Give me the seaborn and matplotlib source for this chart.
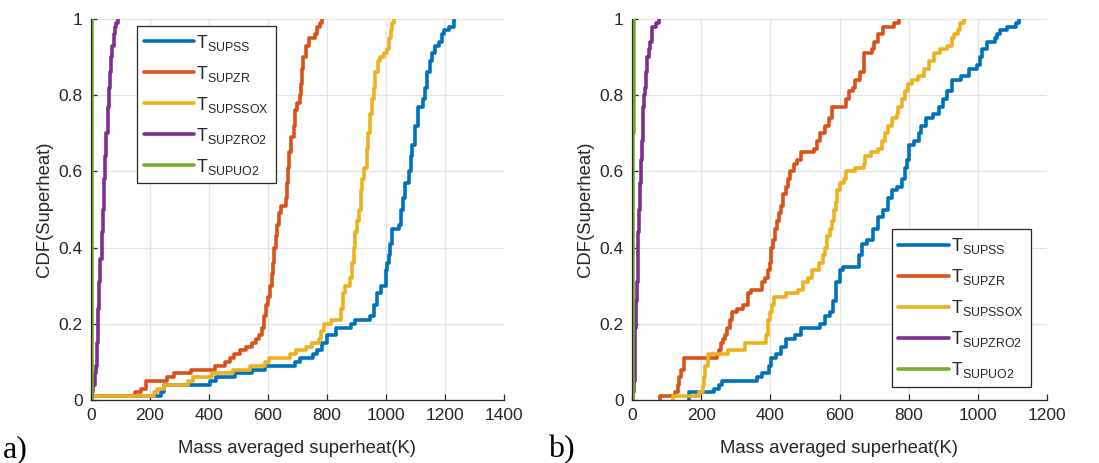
import numpy as np
import matplotlib
matplotlib.use("Agg")
import matplotlib.pyplot as plt
import seaborn as sns

# Series names and line colours (MATLAB default order)
series_names = ["SUPSS", "SUPZR", "SUPSSOX", "SUPZRO2", "SUPUO2"]
series_colors = ["#0072BD", "#D95319", "#EDB120", "#7E2F8E", "#77AC30"]

# ---- case a): sample values (K) and cumulative sample counts (n = 100) ----
ss_a_vals = [0, 236, 246, 402, 424, 488, 547, 590, 690, 708, 751, 765, 784, 800, 832, 880,
             896, 945, 961, 970, 982, 1000, 1005, 1010, 1015, 1020, 1043, 1050, 1056, 1065,
             1077, 1084, 1088, 1099, 1109, 1127, 1133, 1138, 1150, 1157, 1167, 1178, 1189,
             1195, 1212, 1229]
ss_a_cum = [1, 2, 4, 5, 6, 7, 8, 9, 10, 11, 12, 13, 15, 17, 19, 20, 21, 22, 25, 28, 30, 34,
            36, 38, 41, 45, 46, 50, 53, 57, 60, 64, 67, 72, 77, 79, 82, 86, 89, 91, 93, 94,
            96, 97, 98, 100]

zr_a_vals = [0, 150, 170, 188, 257, 280, 340, 420, 455, 470, 485, 505, 525, 545, 558, 568,
             578, 588, 592, 600, 608, 612, 618, 622, 626, 630, 636, 643, 660, 664, 668, 672,
             678, 688, 692, 697, 707, 712, 716, 720, 728, 740, 758, 765, 775, 782]
zr_a_cum = [1, 2, 3, 5, 6, 7, 8, 9, 10, 11, 12, 13, 14, 15, 16, 17, 19, 22, 25, 27, 30, 33,
            36, 40, 43, 46, 49, 51, 53, 57, 61, 65, 69, 72, 76, 78, 80, 83, 87, 90, 93, 95,
            96, 98, 99, 100]

ssox_a_vals = [0, 212, 225, 246, 330, 345, 410, 480, 540, 590, 605, 675, 695, 728, 750, 772,
               778, 790, 815, 848, 854, 862, 878, 884, 890, 896, 902, 908, 914, 920, 926, 934,
               940, 946, 952, 958, 964, 972, 980, 992, 1003, 1010, 1017, 1022, 1028]
ssox_a_cum = [1, 2, 3, 4, 5, 6, 7, 8, 9, 10, 11, 12, 13, 14, 15, 16, 18, 20, 21, 24, 28, 30,
              32, 36, 40, 44, 47, 50, 55, 58, 61, 66, 70, 75, 79, 82, 86, 89, 90, 91, 92, 95,
              97, 99, 100]

zro2_a_vals = [3, 8, 12, 16, 20, 24, 28, 32, 36, 40, 44, 48, 52, 56, 60, 64, 68, 72, 77, 82,
               86, 90]
zro2_a_cum = [2, 4, 7, 9, 15, 24, 31, 37, 44, 50, 58, 64, 70, 77, 82, 86, 90, 93, 96, 98, 99,
              100]

uo2_a_vals = [3, 4, 5]
uo2_a_cum = [30, 70, 100]

# ---- case b): sample values (K) and cumulative sample counts (n = 100) ----
ss_b_vals = [166, 237, 251, 260, 361, 375, 396, 402, 416, 430, 444, 471, 490, 545, 559, 573,
             580, 591, 600, 609, 655, 665, 679, 698, 712, 725, 739, 753, 767, 781, 790, 795,
             800, 814, 830, 837, 851, 870, 888, 898, 912, 925, 950, 974, 998, 1005, 1012,
             1027, 1050, 1056, 1065, 1085, 1109, 1118]
ss_b_cum = [2, 3, 4, 5, 6, 7, 9, 11, 12, 14, 16, 17, 19, 20, 22, 23, 26, 31, 34, 35, 38, 41,
            42, 45, 48, 50, 53, 55, 56, 58, 61, 63, 67, 68, 70, 72, 74, 75, 77, 79, 81, 84,
            85, 87, 88, 90, 92, 94, 95, 96, 97, 98, 99, 100]

zr_b_vals = [82, 125, 133, 136, 143, 150, 245, 252, 257, 263, 270, 275, 282, 290, 303, 320,
             336, 345, 377, 386, 392, 398, 402, 408, 414, 420, 426, 432, 438, 445, 452, 458,
             468, 478, 488, 526, 535, 545, 558, 570, 577, 619, 628, 638, 645, 660, 670, 693,
             700, 712, 726, 758, 772]
zr_b_cum = [1, 2, 4, 6, 8, 11, 12, 13, 15, 16, 17, 19, 21, 23, 24, 25, 28, 29, 31, 32, 34,
            36, 40, 42, 45, 47, 49, 51, 54, 56, 58, 60, 62, 63, 65, 66, 68, 70, 72, 74, 77,
            79, 81, 82, 84, 86, 91, 92, 94, 96, 98, 99, 100]

ssox_b_vals = [118, 195, 205, 209, 212, 220, 277, 327, 388, 392, 400, 406, 410, 445, 480, 495,
               510, 521, 540, 552, 558, 565, 572, 578, 584, 590, 594, 600, 612, 620, 645, 670,
               675, 690, 710, 722, 732, 740, 752, 765, 770, 780, 790, 798, 810, 828, 845, 860,
               872, 890, 910, 925, 932, 942, 948, 960]
ssox_b_cum = [1, 2, 4, 6, 9, 12, 13, 15, 17, 21, 23, 25, 27, 28, 29, 31, 32, 34, 36, 38, 40,
              43, 45, 47, 50, 52, 55, 57, 58, 60, 61, 62, 64, 65, 66, 68, 70, 72, 74, 75, 77,
              79, 81, 83, 84, 85, 87, 89, 91, 92, 93, 95, 96, 97, 99, 100]

zro2_b_vals = [2, 5, 8, 10, 12, 14, 16, 18, 20, 23, 26, 28, 31, 34, 37, 40, 44, 48, 52, 58,
               70, 79]
zro2_b_cum = [2, 5, 12, 19, 26, 31, 38, 44, 50, 57, 63, 68, 77, 80, 82, 86, 90, 92, 94, 98,
              99, 100]

uo2_b_vals = [3, 4, 5]
uo2_b_cum = [30, 70, 100]

# Axis ticks
xticks_a = [0, 200, 400, 600, 800, 1000, 1200, 1400]
xticks_b = [0, 200, 400, 600, 800, 1000, 1200]
yticks = [0, 0.2, 0.4, 0.6, 0.8, 1.0]
ytick_labels = ["0", "0.2", "0.4", "0.6", "0.8", "1"]


def expand(vals, cum):
    """Turn (value, cumulative count) pairs into the raw sample list."""
    counts = np.diff(np.r_[0, cum])
    return np.repeat(np.asarray(vals, dtype=float), counts)


panel_a = [(ss_a_vals, ss_a_cum), (zr_a_vals, zr_a_cum), (ssox_a_vals, ssox_a_cum),
           (zro2_a_vals, zro2_a_cum), (uo2_a_vals, uo2_a_cum)]
panel_b = [(ss_b_vals, ss_b_cum), (zr_b_vals, zr_b_cum), (ssox_b_vals, ssox_b_cum),
           (zro2_b_vals, zro2_b_cum), (uo2_b_vals, uo2_b_cum)]

sns.set_theme(style="whitegrid")
plt.rcParams["font.family"] = ["Liberation Sans", "DejaVu Sans"]
plt.rcParams["mathtext.fontset"] = "custom"
plt.rcParams["mathtext.rm"] = "Liberation Sans"
plt.rcParams["mathtext.it"] = "Liberation Sans"

DARK = "#262626"
fig = plt.figure(figsize=(10.99, 4.63), dpi=100)
fig.patch.set_facecolor("white")
ax_a = fig.add_axes([91 / 1099, 63 / 463, 413 / 1099, 381 / 463])
ax_b = fig.add_axes([632 / 1099, 63 / 463, 415 / 1099, 381 / 463])


def draw_panel(ax, panel, xticks, legend_loc, legend_anchor):
    for (vals, cum), name, color in zip(panel, series_names, series_colors):
        sns.ecdfplot(x=expand(vals, cum), ax=ax, color=color, linewidth=2.6,
                     label=r"$\mathregular{T_{%s}}$" % name)
    ax.set_xlim(xticks[0], xticks[-1])
    ax.set_ylim(0, 1)
    ax.set_xticks(xticks)
    ax.set_xticklabels([str(t) for t in xticks])
    ax.set_yticks(yticks)
    ax.set_yticklabels(ytick_labels)
    ax.set_facecolor("white")
    ax.grid(True, color="#e3e3e3", linewidth=0.9)
    for side in ("top", "right"):
        ax.spines[side].set_visible(False)
    for side in ("left", "bottom"):
        ax.spines[side].set_color(DARK)
        ax.spines[side].set_linewidth(0.9)
    ax.tick_params(direction="in", length=4, width=0.9, color=DARK, labelcolor=DARK,
                   labelsize=12.5, pad=6, left=True, bottom=True)
    ax.set_xlabel("Mass averaged superheat(K)", fontsize=13.3, color=DARK, labelpad=12)
    ax.set_ylabel("CDF(Superheat)", fontsize=13.3, color=DARK, labelpad=4)
    leg = ax.legend(loc=legend_loc, bbox_to_anchor=legend_anchor, borderaxespad=0,
                    frameon=True, fancybox=False, framealpha=1, edgecolor=DARK,
                    fontsize=12.8, handlelength=2.85, handletextpad=0.12,
                    labelspacing=0.62, borderpad=0.38)
    leg.get_frame().set_linewidth(0.9)
    for line in leg.get_lines():
        line.set_linewidth(2.6)


draw_panel(ax_a, panel_a, xticks_a, "upper left", (0.111, 0.982))
draw_panel(ax_b, panel_b, xticks_b, "lower right", (0.961, 0.034))

fig.text(3 / 1099, 6 / 463, "a)", family="Liberation Serif", fontsize=23, color="black")
fig.text(548 / 1099, 6 / 463, "b)", family="Liberation Serif", fontsize=23, color="black")

fig.savefig("out.png", dpi=100, facecolor="white")
